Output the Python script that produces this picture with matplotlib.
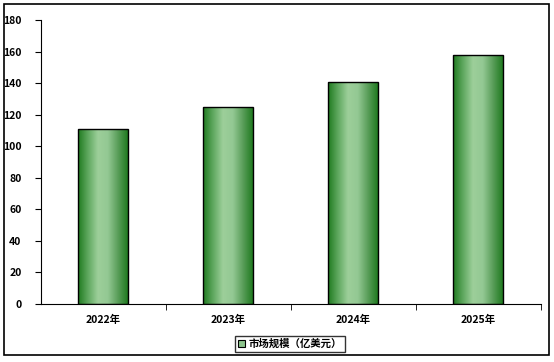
import numpy as np
import matplotlib
matplotlib.use("Agg")
import matplotlib.pyplot as plt
from matplotlib.colors import LinearSegmentedColormap
from matplotlib.patches import Rectangle

plt.rcParams['font.family'] = ['Noto Sans CJK SC', 'DejaVu Sans']

years = ['2022年', '2023年', '2024年', '2025年']
market_size = [111, 125, 141, 158]
legend_label = '市场规模（亿美元）'

W, H = 554, 362
fig = plt.figure(figsize=(W / 100, H / 100), dpi=100)
ax = fig.add_axes([41 / W, 58 / H, 500 / W, 284 / H])

# cylinder-like gradient: dark at the edges, light in the middle
cmap = LinearSegmentedColormap.from_list('cyl', ['#1f7a1f', '#5fa85f', '#9dcf9a', '#93c893', '#5a9e5a', '#1f7a1f'])
grad = np.linspace(0, 1, 256).reshape(1, -1)

x = np.arange(len(years))
width = 0.4
bars = ax.bar(x, market_size, width, facecolor='none', edgecolor='black', linewidth=1.0, zorder=3)
for b in bars:
    x0, w, h = b.get_x(), b.get_width(), b.get_height()
    im = ax.imshow(grad, cmap=cmap, aspect='auto', extent=[x0, x0 + w, 0, h], zorder=2)
    im.set_clip_path(b)

ax.set_xlim(-0.5, len(years) - 0.5)
ax.set_ylim(0, 180)
ax.set_yticks(range(0, 181, 20))
ax.set_xticks(x)
ax.set_xticklabels(years)
ax.set_xticks(np.arange(0.5, len(years), 1), minor=True)
ax.tick_params(axis='x', which='major', length=0, pad=8)
ax.tick_params(axis='x', which='minor', length=4, direction='out')
ax.tick_params(axis='y', length=4, direction='out', pad=10)
for lab in ax.get_xticklabels() + ax.get_yticklabels():
    lab.set_fontsize(7.5)
    lab.set_fontweight('bold')

for s in ['top', 'right']:
    ax.spines[s].set_visible(False)

handle = Rectangle((0, 0), 1, 1, facecolor='#8cc48c', edgecolor='black', linewidth=0.8)
leg = fig.legend([handle], [legend_label], loc='center', bbox_to_anchor=(290 / W, 1 - 344 / H),
                 frameon=True, fancybox=False, handlelength=0.7, handleheight=0.7, handletextpad=0.3,
                 borderpad=0.3, prop={'size': 7.5, 'weight': 'bold'})
leg.get_frame().set_edgecolor('black')
leg.get_frame().set_linewidth(1.0)

# outer chart border
fig.patches.append(Rectangle((4 / W, 7 / H), 545 / W, 351 / H, transform=fig.transFigure,
                             fill=False, edgecolor='black', linewidth=1.2))

fig.savefig('out.png', dpi=100)
